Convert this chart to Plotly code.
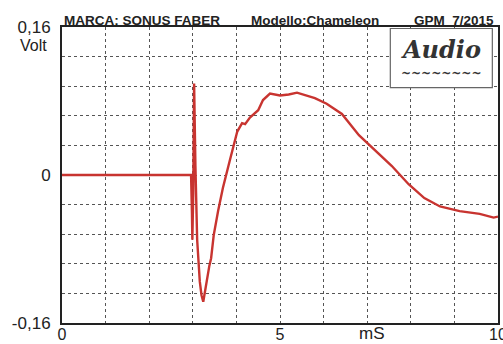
import plotly.graph_objects as go

# time (ms) and voltage (V)
time_ms = [0.0, 2.96, 2.98, 2.99, 3.01, 3.03, 3.06, 3.10, 3.16, 3.20, 3.24, 3.28, 3.33,
           3.38, 3.42, 3.48, 3.58, 3.69, 3.85, 3.97, 4.02, 4.13, 4.20, 4.31, 4.40,
           4.50, 4.61, 4.77, 5.00, 5.20, 5.39, 5.62, 5.80, 6.07, 6.42, 6.81, 7.20,
           7.56, 7.95, 8.31, 8.67, 9.12, 9.58, 9.90, 10.0]
volt = [0.0, 0.0, -0.040, -0.070, -0.020, 0.099, 0.010, -0.070, -0.115, -0.130, -0.137,
        -0.125, -0.108, -0.098, -0.090, -0.065, -0.039, -0.014, 0.016, 0.038, 0.047,
        0.056, 0.055, 0.062, 0.066, 0.070, 0.081, 0.088, 0.086, 0.087, 0.089, 0.086,
        0.083, 0.077, 0.066, 0.043, 0.026, 0.010, -0.010, -0.025, -0.034, -0.039,
        -0.042, -0.046, -0.045]

x_ticks = [0, 1, 2, 3, 4, 5, 6, 7, 8, 9, 10]
x_tick_text = ["0", "", "", "", "", "5", "", "", "", "", "10"]
y_ticks = [-0.16, -0.128, -0.096, -0.064, -0.032, 0, 0.032, 0.064, 0.096, 0.128, 0.16]
y_tick_text = ["-0,16", "", "", "", "", "0", "", "", "", "", "0,16"]

title_parts = ["MARCA: SONUS FABER", "Modello:Chameleon", "GPM  7/2015"]

FONT = "Liberation Sans, Arial, sans-serif"

fig = go.Figure()
fig.add_trace(go.Scatter(x=time_ms, y=volt, mode="lines",
                         line=dict(color="rgb(200,52,48)", width=2.4),
                         hoverinfo="skip", showlegend=False))

axis_common = dict(showline=True, linecolor="#222", linewidth=2, mirror=True,
                   showgrid=True, gridcolor="#555", griddash="dot", gridwidth=1,
                   zeroline=False, ticks="", fixedrange=True, automargin=False,
                   ticklabeloverflow="allow")

fig.update_layout(
    width=503, height=344,
    margin=dict(l=62, r=5, t=27, b=21, autoexpand=False),
    paper_bgcolor="white", plot_bgcolor="white",
    font=dict(family=FONT, color="#222"),
    xaxis=dict(range=[0, 10], tickvals=x_ticks, ticktext=x_tick_text,
               tickfont=dict(size=16, family=FONT, color="#222"), ticklabelstandoff=-4,
               **axis_common),
    yaxis=dict(range=[-0.16, 0.16], tickvals=y_ticks, ticktext=y_tick_text,
               tickfont=dict(size=17, family=FONT, color="#222"), ticklabelstandoff=6,
               **axis_common),
)

# header text
hdr = dict(size=13.5, family=FONT, color="#222")
fig.add_annotation(x=0, y=1, xref="paper", yref="paper", xanchor="left", yanchor="bottom",
                   text="<b>" + title_parts[0] + "</b>", showarrow=False, font=hdr, yshift=-3)
fig.add_annotation(x=0.43, y=1, xref="paper", yref="paper", xanchor="left", yanchor="bottom",
                   text="<b>" + title_parts[1] + "</b>", showarrow=False, font=hdr, yshift=-3)
fig.add_annotation(x=1, y=1, xref="paper", yref="paper", xanchor="right", yanchor="bottom",
                   text="<b>" + title_parts[2] + "</b>", showarrow=False, font=hdr,
                   yshift=-3, xshift=-2)

# y unit label
fig.add_annotation(x=0, y=1, xref="paper", yref="paper", xanchor="right", yanchor="top",
                   text="Volt", showarrow=False, xshift=-13, yshift=-8,
                   font=dict(size=16, family=FONT, color="#222"))
# x unit label
fig.add_annotation(x=7.1, y=0, xref="x", yref="paper", xanchor="center", yanchor="top",
                   text="mS", showarrow=False, yshift=1,
                   font=dict(size=17, family=FONT, color="#222"))

# logo box
fig.add_shape(type="rect", xref="paper", yref="paper", x0=0.753, x1=0.987, y0=0.795, y1=0.995,
              fillcolor="white", line=dict(color="#666", width=1.2), layer="above")
fig.add_annotation(x=0.87, y=0.925, xref="paper", yref="paper", text="<i><b>Audio</b></i>",
                   xanchor="center", yanchor="middle",
                   showarrow=False, font=dict(size=24, family="DejaVu Serif", color="#333"))
fig.add_annotation(x=0.87, y=0.845, xref="paper", yref="paper", text="<b>~~~~~~~~</b>",
                   xanchor="center", yanchor="middle",
                   showarrow=False, font=dict(size=12, family="DejaVu Serif", color="#333"))

fig.write_html("out.html", config={"displayModeBar": False},
               post_script="document.body.style.margin='0';")
